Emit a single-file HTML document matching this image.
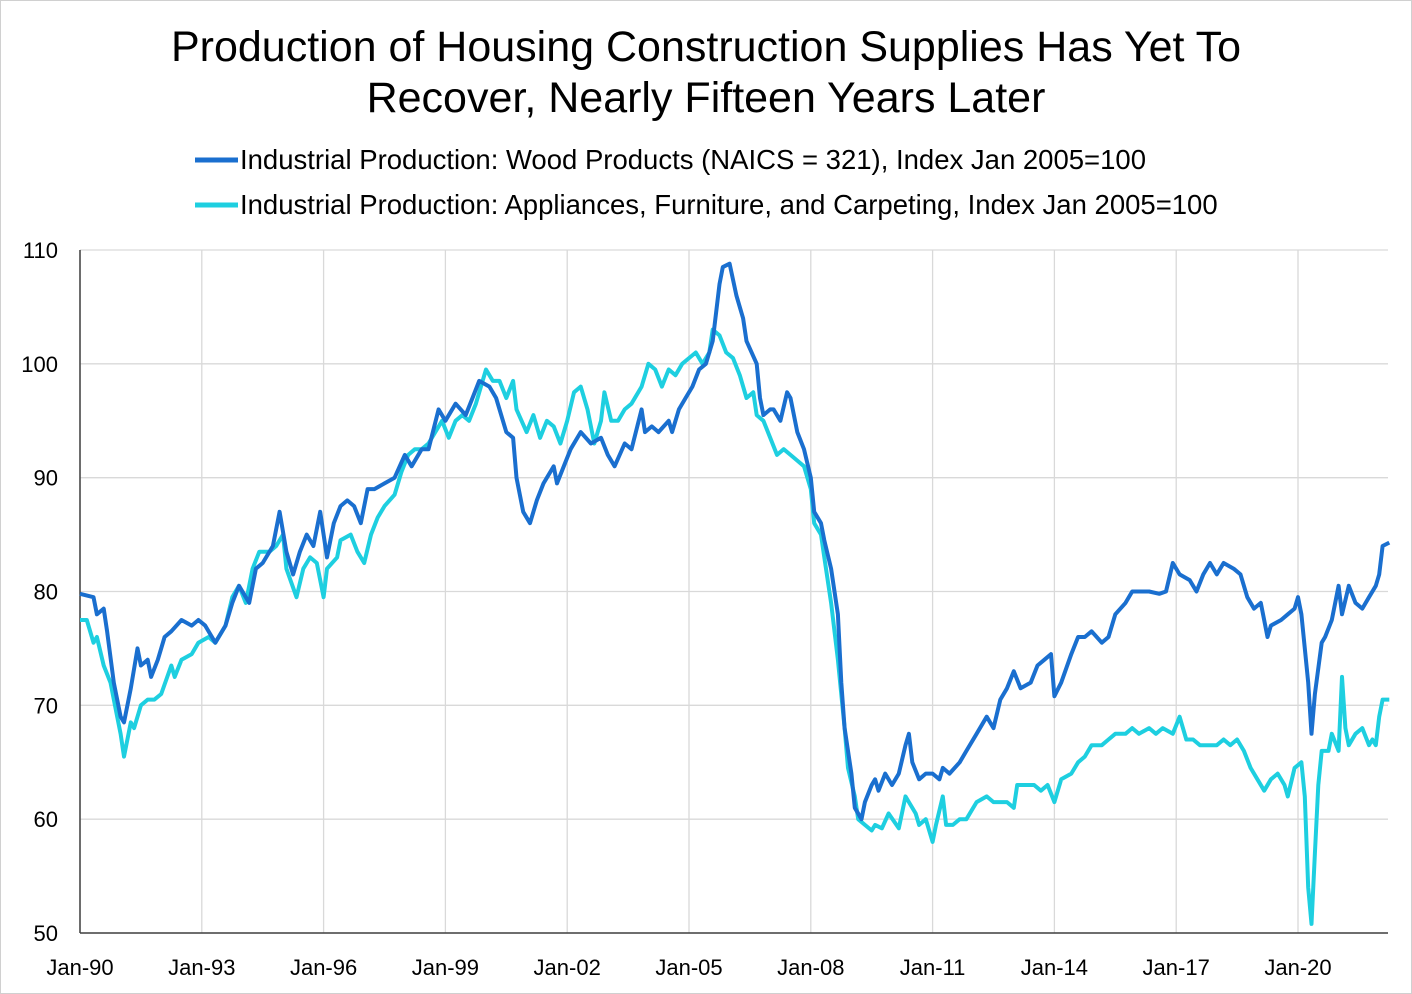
<!DOCTYPE html>
<html><head><meta charset="utf-8"><style>
body{margin:0;background:#fff;}
svg{display:block;font-family:"Liberation Sans",sans-serif;}
</style></head><body>
<svg id="c" width="1412" height="994">
<rect x="0.5" y="0.5" width="1411" height="993" fill="#fff" stroke="#d0d0d0"/>
<text x="706" y="61" text-anchor="middle" font-size="43" fill="#000">Production of Housing Construction Supplies Has Yet To</text>
<text x="706" y="112" text-anchor="middle" font-size="43" fill="#000">Recover, Nearly Fifteen Years Later</text>
<g>
<line x1="195" y1="160" x2="238" y2="160" stroke="#1a6fcf" stroke-width="5"/>
<text x="240" y="169" font-size="27.5">Industrial Production: Wood Products (NAICS = 321), Index Jan 2005=100</text>
<line x1="195" y1="205" x2="238" y2="205" stroke="#1ecfe0" stroke-width="5"/>
<text x="240" y="214" font-size="27.5">Industrial Production: Appliances, Furniture, and Carpeting, Index Jan 2005=100</text>
</g>
<g id="grid"></g><g id="axes"></g><g id="lines"></g>
</svg>
<script>
const yTicks=[50,60,70,80,90,100,110];
const xTickLabels=["Jan-90","Jan-93","Jan-96","Jan-99","Jan-02","Jan-05","Jan-08","Jan-11","Jan-14","Jan-17","Jan-20"];
const xTickMonths=[0,36,72,108,144,180,216,252,288,324,360];
const woodMonths=[0,4,5,7,8,10,12,13,15,17,18,20,21,23,25,27,30,33,35,37,40,43,45,47,50,52,54,57,59,61,63,65,67,69,71,73,75,77,79,81,83,85,87,90,93,96,98,101,103,106,108,111,114,116,118,121,123,126,128,129,131,133,135,137,140,141,143,145,148,151,154,156,158,161,163,166,167,169,171,174,175,177,179,181,183,185,187,189,190,192,194,196,197,200,201,202,204,205,207,209,210,212,214,216,217,219,220,222,224,225,226,228,229,231,232,234,235,236,238,240,242,244,245,246,248,250,252,254,255,257,260,262,265,268,270,272,274,276,278,281,283,285,287,288,290,293,295,297,299,302,304,306,309,311,313,316,319,321,323,325,328,330,332,334,336,338,341,343,345,347,349,351,352,355,357,359,360,361,363,364,365,367,368,370,372,373,375,377,379,381,383,384,385,387];
const woodValues=[79.8,79.5,78,78.5,76.5,72,69,68.5,71.5,75,73.5,74,72.5,74,76,76.5,77.5,77,77.5,77,75.5,77,79,80.5,79,82,82.5,84,87,83.5,81.5,83.5,85,84,87,83,86,87.5,88,87.5,86,89,89,89.5,90,92,91,92.5,92.5,96,95,96.5,95.5,97,98.5,98,97,94,93.5,90,87,86,88,89.5,91,89.5,91,92.5,94,93,93.5,92,91,93,92.5,96,94,94.5,94,95,94,96,97,98,99.5,100,102,107,108.5,108.8,106,104,102,100,97,95.5,96,96,95,97.5,97,94,92.5,90,87,86,84.5,82,78,72,68,64,61,60,61.5,63,63.5,62.5,64,63,64,66.5,67.5,65,63.5,64,64,63.5,64.5,64,65,66,67.5,69,68,70.5,71.5,73,71.5,72,73.5,74,74.5,70.8,72,74.5,76,76,76.5,75.5,76,78,79,80,80,80,79.8,80,82.5,81.5,81,80,81.5,82.5,81.5,82.5,82,81.5,79.5,78.5,79,76,77,77.5,78,78.5,79.5,78,72,67.5,71,75.5,76,77.5,80.5,78,80.5,79,78.5,79.5,80.5,81.5,84,84.3];
const appMonths=[0,2,4,5,7,9,11,12,13,15,16,18,20,22,24,27,28,30,33,35,38,40,43,45,47,49,51,53,56,58,60,61,64,66,68,70,72,73,76,77,80,82,84,86,88,90,93,95,97,99,101,103,105,107,109,111,113,115,117,119,120,122,124,126,128,129,132,134,136,138,140,142,144,146,148,150,152,154,155,157,159,161,163,166,168,170,172,174,176,178,180,182,184,186,187,189,191,193,195,197,199,200,202,204,206,208,210,212,214,216,217,219,220,222,224,226,227,229,230,232,234,235,237,239,242,244,245,247,248,250,252,253,255,256,258,260,262,265,268,270,272,274,276,277,279,282,284,286,288,290,293,295,297,299,302,304,306,309,311,313,316,318,320,323,325,327,329,331,333,336,338,340,342,344,346,348,350,352,354,356,357,359,361,362,363,364,365,366,367,369,370,372,373,374,375,377,379,381,382,383,384,385,387];
const appValues=[77.5,77.5,75.5,76,73.5,72,69,67.5,65.5,68.5,68,70,70.5,70.5,71,73.5,72.5,74,74.5,75.5,76,75.5,77,79.5,80.5,79,82,83.5,83.5,84,85,82,79.5,82,83,82.5,79.5,82,83,84.5,85,83.5,82.5,85,86.5,87.5,88.5,90.5,92,92.5,92.5,93,94,95,93.5,95,95.5,95,96.5,98.5,99.5,98.5,98.5,97,98.5,96,94,95.5,93.5,95,94.5,93,95,97.5,98,96,93,95,97.5,95,95,96,96.5,98,100,99.5,98,99.5,99,100,100.5,101,100,101,103,102.5,101,100.5,99,97,97.5,95.5,95,93.5,92,92.5,92,91.5,91,89,86,85,83,79,74,68,64.5,62,60,59.5,59,59.5,59.2,60.5,59.2,62,61.5,60.5,59.5,60,58,59.5,62,59.5,59.5,60,60,61.5,62,61.5,61.5,61.5,61,63,63,63,62.5,63,61.5,63.5,64,65,65.5,66.5,66.5,67,67.5,67.5,68,67.5,68,67.5,68,67.5,69,67,67,66.5,66.5,66.5,67,66.5,67,66,64.5,63.5,62.5,63.5,64,63,62,64.5,65,62,54,50.8,57,63,66,66,67.5,66,72.5,68,66.5,67.5,68,66.5,67,66.5,69,70.5,70.5];
const L=80,R=1388,T=250,B=933;
const xS=m=>L+m*(1298-80)/360;
const yS=v=>B-(v-50)*(B-T)/60;
const NS="http://www.w3.org/2000/svg";
function mk(tag,attrs,parent,text){const e=document.createElementNS(NS,tag);for(const k in attrs)e.setAttribute(k,attrs[k]);if(text!==undefined)e.textContent=text;document.getElementById(parent).appendChild(e);return e;}
yTicks.forEach(v=>{
  const g=mk('line',{x1:L,x2:R,y1:yS(v),y2:yS(v),stroke:'#d9d9d9','stroke-width':1.3},'grid');
  
  
  const t=mk('text',{x:58,y:yS(v)+8,'text-anchor':'end','font-size':22},'axes',String(v));
  
  
});
xTickMonths.forEach((m,i)=>{
  const g=mk('line',{x1:xS(m),x2:xS(m),y1:T,y2:B,stroke:'#d9d9d9','stroke-width':1.3},'grid');
  
  
  const t=mk('text',{x:xS(m),y:975,'text-anchor':'middle','font-size':22},'axes',xTickLabels[i]);
  
  
});
const ya=mk('line',{x1:L,x2:L,y1:T,y2:B,stroke:'#404040','stroke-width':1.5},'axes');


const xa=mk('line',{x1:L,x2:R,y1:B,y2:B,stroke:'#404040','stroke-width':1.5},'axes');


function series(ms,vs,color,name){
  const d=ms.map((m,i)=>(i?'L':'M')+xS(m).toFixed(1)+','+yS(vs[i]).toFixed(1)).join('');
  const p=mk('path',{d:d,fill:'none',stroke:color,'stroke-width':4,'stroke-linejoin':'round'},'lines');
  
  
}
series(appMonths,appValues,'#1ecfe0','appliances-line');
series(woodMonths,woodValues,'#1a6fcf','wood-products-line');
</script>
</body></html>
